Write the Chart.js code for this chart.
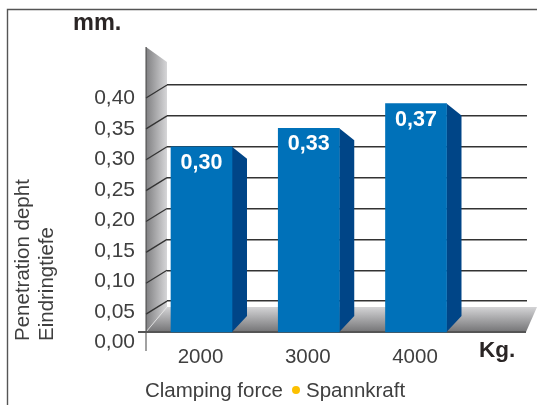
<!DOCTYPE html>
<html>
<head>
<meta charset="utf-8">
<style>
  html, body { margin: 0; padding: 0; background: #fff; }
  canvas { display: block; }
</style>
<script src="https://cdn.jsdelivr.net/npm/chart.js@4/dist/chart.umd.min.js"></script>
</head>
<body>
<canvas id="chart" width="537" height="405"></canvas>
<script>
const forces = [2000, 3000, 4000];
const depths = [0.30, 0.33, 0.37];
const depthLabels = ['0,30', '0,33', '0,37'];
const tickValues = [0, 0.05, 0.10, 0.15, 0.20, 0.25, 0.30, 0.35, 0.40];
const tickLabels = ['0,00', '0,05', '0,10', '0,15', '0,20', '0,25', '0,30', '0,35', '0,40'];
const gridValues = [0.05, 0.10, 0.15, 0.20, 0.25, 0.30, 0.35, 0.40];

const FONT = '"Liberation Sans", Arial, sans-serif';
const GREY = '#3f3f3f';

const text = (ctx, str, x, y, font, color, align, rot) => {
  ctx.save();
  ctx.translate(x, y);
  if (rot) ctx.rotate(rot);
  ctx.font = font;
  ctx.fillStyle = color;
  ctx.textAlign = align || 'left';
  ctx.textBaseline = 'alphabetic';
  ctx.fillText(str, 0, 0);
  ctx.restore();
};

const poly = (ctx, pts, fill) => {
  ctx.beginPath();
  pts.forEach((p, i) => i ? ctx.lineTo(p[0], p[1]) : ctx.moveTo(p[0], p[1]));
  ctx.closePath();
  ctx.fillStyle = fill;
  ctx.fill();
};

// frame, wall, floor and the side of the bars
const scenery = {
  id: 'scenery',
  beforeDraw(chart) {
    const ctx = chart.ctx;
    ctx.save();
    ctx.strokeStyle = '#555';
    ctx.lineWidth = 1.4;
    ctx.beginPath();
    ctx.moveTo(7.5, 405);
    ctx.lineTo(7.5, 9.5);
    ctx.lineTo(537, 9.5);
    ctx.stroke();
    ctx.restore();
  },
  beforeDatasetsDraw(chart) {
    const ctx = chart.ctx;
    const y = chart.scales.y;
    const base = y.getPixelForValue(0);
    const left = chart.chartArea.left;

    let g = ctx.createLinearGradient(146, 0, left, 0);
    g.addColorStop(0, '#808082');
    g.addColorStop(1, '#d6d6d8');
    poly(ctx, [[146, 47], [left, 62], [left, 307], [146, base]], g);

    g = ctx.createLinearGradient(0, 307, 0, base);
    g.addColorStop(0, '#d4d4d6');
    g.addColorStop(1, '#747476');
    poly(ctx, [[146, base], [left, 307], [537, 307], [526, base]], g);

    ctx.save();
    ctx.strokeStyle = '#e4e4e4';
    ctx.lineWidth = 0.8;
    ctx.beginPath();
    ctx.moveTo(146, base);
    ctx.lineTo(left, 307);
    ctx.stroke();

    // slanted grid ends on the wall
    ctx.strokeStyle = '#333';
    ctx.lineWidth = 1.3;
    gridValues.forEach(v => {
      const py = y.getPixelForValue(v);
      ctx.beginPath();
      ctx.moveTo(left, py);
      ctx.lineTo(146, py + 13);
      ctx.stroke();
    });

    ctx.strokeStyle = '#444';
    ctx.lineWidth = 1;
    ctx.beginPath();
    ctx.moveTo(146, 47);
    ctx.lineTo(146, 351);
    ctx.stroke();
    ctx.lineWidth = 2;
    ctx.strokeStyle = '#555';
    ctx.beginPath();
    ctx.moveTo(138, base);
    ctx.lineTo(526, base);
    ctx.stroke();
    ctx.restore();

    chart.getDatasetMeta(0).data.forEach(bar => {
      const r = bar.x + bar.width / 2;
      poly(ctx, [[r, bar.y], [r + 15, bar.y + 12], [r + 15, base - 16], [r, base]], '#004587');
    });
  },
  afterDatasetsDraw(chart) {
    const ctx = chart.ctx;
    chart.getDatasetMeta(0).data.forEach((bar, i) => {
      text(ctx, depthLabels[i], bar.x, bar.y + 22, 'bold 21.5px ' + FONT, '#fff', 'center');
    });
    text(ctx, 'mm.', 73, 30, 'bold 23.5px ' + FONT, '#2a2525');
    text(ctx, 'Kg.', 479, 357, 'bold 22.5px ' + FONT, '#2a2525');
    text(ctx, 'Penetration depht', 29, 341, '20.5px ' + FONT, GREY, 'left', -Math.PI / 2);
    text(ctx, 'Eindringtiefe', 53, 341, '20.5px ' + FONT, GREY, 'left', -Math.PI / 2);
    text(ctx, 'Clamping force', 145, 397, '20.5px ' + FONT, GREY);
    text(ctx, 'Spannkraft', 306, 397, '20.5px ' + FONT, GREY);
    ctx.beginPath();
    ctx.arc(296, 390, 4, 0, Math.PI * 2);
    ctx.fillStyle = '#fcc000';
    ctx.fill();
  }
};

new Chart(document.getElementById('chart'), {
  type: 'bar',
  data: {
    datasets: [{
      data: forces.map((f, i) => ({ x: f, y: depths[i] })),
      backgroundColor: '#0071b9',
      barThickness: 61,
      yAxisID: 'y',
      xAxisID: 'x'
    }]
  },
  options: {
    responsive: false,
    animation: false,
    layout: { padding: { top: 47, left: 0, right: 10, bottom: 0 } },
    plugins: { legend: { display: false }, tooltip: { enabled: false } },
    scales: {
      x: {
        type: 'linear',
        offset: false,
        min: 1678.3,
        max: 5035,
        grid: { display: false, offset: false },
        border: { display: false },
        afterBuildTicks: s => { s.ticks = forces.map(v => ({ value: v })); },
        afterFit: s => { s.height = 60; },
        ticks: {
          autoSkip: false,
          maxRotation: 0,
          padding: -8,
          labelOffset: -1,
          color: GREY,
          font: { family: FONT, size: 20.5 },
          callback: v => String(v)
        }
      },
      y: {
        position: 'left',
        min: -0.02105,
        max: 0.46154,
        border: { display: false },
        grid: { color: '#333', lineWidth: 1.5, drawTicks: false },
        afterBuildTicks: s => { s.ticks = gridValues.map(v => ({ value: v })); },
        afterFit: s => { s.width = 0; },
        ticks: { display: false }
      },
      labels: {
        position: 'left',
        min: -0.0041,
        max: 0.4844,
        border: { display: false },
        grid: { display: false },
        afterBuildTicks: s => { s.ticks = tickValues.map(v => ({ value: v })); },
        afterFit: s => { s.width = 167; },
        ticks: {
          autoSkip: false,
          padding: 24,
          color: GREY,
          font: { family: FONT, size: 21 },
          callback: (v, i) => tickLabels[i]
        }
      }
    }
  },
  plugins: [scenery]
});
</script>
</body>
</html>
